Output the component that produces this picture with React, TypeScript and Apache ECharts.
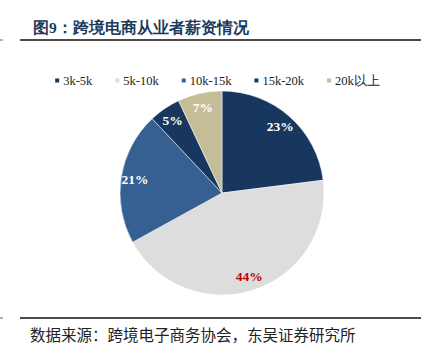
import React, { useEffect, useRef } from "react";
import * as echarts from "echarts";

const categories = ["3k-5k", "5k-10k", "10k-15k", "15k-20k", "20k以上"];
const values = [23, 44, 21, 5, 7];
const colors = ["#17375E", "#DDDDDD", "#376092", "#17375E", "#C4BD97"];
const labelColors = ["#FFFFFF", "#C00000", "#FFFFFF", "#FFFFFF", "#FFFFFF"];
const titleText = "图9：跨境电商从业者薪资情况";
const sourceText = "数据来源：跨境电子商务协会，东吴证券研究所";

const SERIF = "'Liberation Serif', 'Times New Roman', serif";

export default function App() {
  const ref = useRef<HTMLDivElement>(null);
  useEffect(() => {
    document.body.style.margin = "0";
    const chart = echarts.init(ref.current!, null, { renderer: "svg" });
    const data = categories.map((name, i) => ({
      name,
      value: values[i],
      itemStyle: { color: colors[i] },
    }));
    const labelData = categories.map((name, i) => ({
      name,
      value: values[i],
      itemStyle: { color: "rgba(0,0,0,0)" },
      label: { color: labelColors[i] },
    }));
    chart.setOption({
      animation: false,
      backgroundColor: "#ffffff",
      title: {
        text: titleText,
        left: 28,
        top: 14,
        textStyle: {
          fontFamily: SERIF,
          fontSize: 15.5,
          fontWeight: "bold",
          color: "#1B3A5C",
        },
      },
      legend: {
        data: categories,
        top: 69,
        left: "center",
        icon: "rect",
        itemWidth: 6,
        itemHeight: 6,
        itemGap: 21,
        textStyle: {
          fontFamily: SERIF,
          fontSize: 12.5,
          color: "#222",
          padding: [0, 0, 0, -2],
        },
      },
      graphic: [
        { type: "line", shape: { x1: 20, y1: 40, x2: 421, y2: 40 }, style: { stroke: "#111", lineWidth: 1.5 } },
        { type: "line", shape: { x1: 20, y1: 318, x2: 421, y2: 318 }, style: { stroke: "#111", lineWidth: 1.5 } },
        { type: "line", shape: { x1: 0, y1: 40, x2: 3, y2: 40 }, style: { stroke: "#666", lineWidth: 1 } },
        { type: "line", shape: { x1: 0, y1: 318, x2: 3, y2: 318 }, style: { stroke: "#666", lineWidth: 1 } },
        {
          type: "text",
          x: 30,
          y: 334,
          style: {
            text: sourceText,
            fontFamily: "'Noto Sans CJK SC'",
            fontSize: 15.5,
            fill: "#222",
            verticalAlign: "middle",
          },
        },
      ],
      series: [
        {
          type: "pie",
          center: [222, 193],
          radius: [0, 102],
          startAngle: 90,
          clockwise: true,
          silent: true,
          label: { show: false },
          labelLine: { show: false },
          itemStyle: { borderColor: "#ffffff", borderWidth: 0.5 },
          data,
        },
        {
          type: "pie",
          center: [222, 193],
          radius: [70, 100],
          startAngle: 90,
          clockwise: true,
          silent: true,
          label: {
            show: true,
            position: "inside",
            formatter: "{c}%",
            fontFamily: SERIF,
            fontWeight: "bold",
            fontSize: 13.5,
          },
          labelLine: { show: false },
          data: labelData,
        },
      ],
    });
    return () => chart.dispose();
  }, []);
  return <div ref={ref} style={{ width: 433, height: 362 }} />;
}
